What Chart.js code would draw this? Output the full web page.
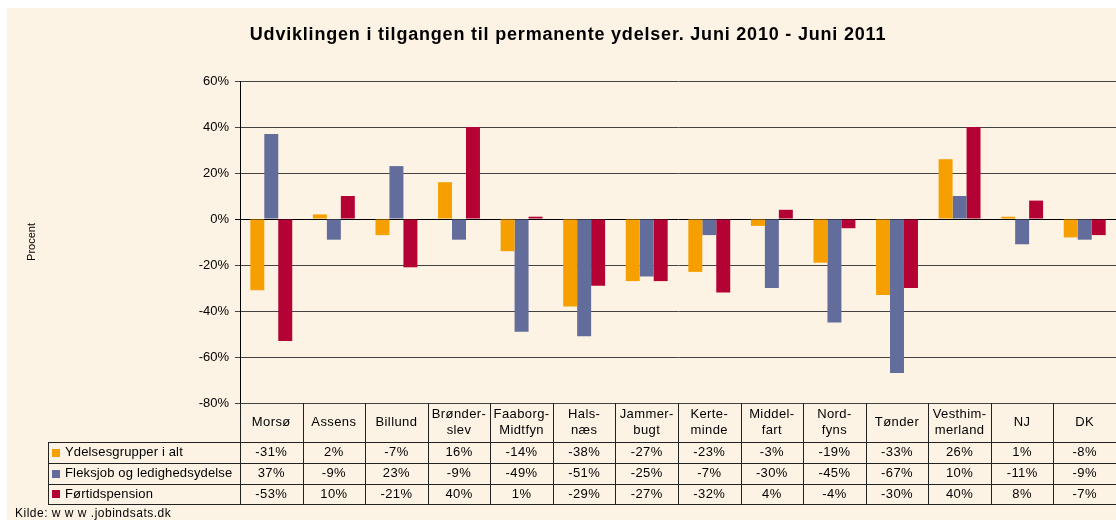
<!DOCTYPE html>
<html>
<head>
<meta charset="utf-8">
<script src="https://cdn.jsdelivr.net/npm/chart.js@4/dist/chart.umd.min.js"></script>
<style>
  html, body { margin: 0; padding: 0; background: #fff; }
  #wrap { width: 1116px; height: 520px; }
</style>
</head>
<body>
<div id="wrap"><canvas id="myChart" width="1116" height="520"></canvas></div>
<script>
// data
const kommuner = ['Morsø', 'Assens', 'Billund', 'Brønderslev', 'Faaborg-Midtfyn', 'Halsnæs', 'Jammerbugt',
  'Kerteminde', 'Middelfart', 'Nordfyns', 'Tønder', 'Vesthimmerland', 'NJ', 'DK'];
// labels as they are split in the table header
const kommuneLinjer = [['Morsø'], ['Assens'], ['Billund'], ['Brønder-', 'slev'], ['Faaborg-', 'Midtfyn'],
  ['Hals-', 'næs'], ['Jammer-', 'bugt'], ['Kerte-', 'minde'], ['Middel-', 'fart'], ['Nord-', 'fyns'],
  ['Tønder'], ['Vesthim-', 'merland'], ['NJ'], ['DK']];
const ydelser = [-31, 2, -7, 16, -14, -38, -27, -23, -3, -19, -33, 26, 1, -8];
const fleksjob = [37, -9, 23, -9, -49, -51, -25, -7, -30, -45, -67, 10, -11, -9];
const foertid = [-53, 10, -21, 40, 1, -29, -27, -32, 4, -4, -30, 40, 8, -7];
const serieNavne = ['Ydelsesgrupper i alt', 'Fleksjob og ledighedsydelse', 'Førtidspension'];
const yMin = -80;
const yMax = 60;
const yStep = 20;

const farver = ['#F5A000', '#636D9B', '#B30233'];
const FONT = "'Liberation Sans', Arial, sans-serif";

Chart.defaults.font.family = FONT;
Chart.defaults.color = '#000';

/**
 * baggrund, titel, akse-titel, datatabel og kilde
 */
const tegnPlugin = {
  id: 'tegnPlugin',
  beforeDraw(chart) {
    const ctx = chart.ctx;
    ctx.save();
    ctx.fillStyle = '#fff';
    ctx.fillRect(0, 0, chart.width, chart.height);
    ctx.fillStyle = '#FDF3E5';
    ctx.fillRect(7, 8, chart.width - 7, chart.height - 8);
    ctx.restore();
  },
  afterDraw(chart) {
    const ctx = chart.ctx;
    const x = chart.scales.x;
    const area = chart.chartArea;
    const colW = x.width / kommuner.length;
    const rows = [area.bottom, area.bottom + 39, area.bottom + 60, area.bottom + 81, area.bottom + 101];
    const tabelVenstre = 48;

    ctx.save();

    // titel
    ctx.fillStyle = '#000';
    ctx.font = 'bold 18px ' + FONT;
    ctx.letterSpacing = '0.8px';
    ctx.textAlign = 'center';
    ctx.textBaseline = 'middle';
    ctx.fillText('Udviklingen i tilgangen til permanente ydelser. Juni 2010 - Juni 2011', 568, 35);
    ctx.letterSpacing = '0px';

    // y akse titel
    ctx.save();
    ctx.translate(32, (area.top + area.bottom) / 2);
    ctx.rotate(-Math.PI / 2);
    ctx.font = '11px ' + FONT;
    ctx.fillText('Procent', 0, 0);
    ctx.restore();

    // linjer i tabellen
    ctx.strokeStyle = '#222';
    ctx.lineWidth = 1;
    ctx.beginPath();
    for (let i = 1; i < rows.length; i++) {
      ctx.moveTo(tabelVenstre, Math.round(rows[i]) + 0.5);
      ctx.lineTo(area.right, Math.round(rows[i]) + 0.5);
    }
    ctx.moveTo(tabelVenstre + 0.5, rows[1]);
    ctx.lineTo(tabelVenstre + 0.5, rows[4]);
    for (let i = 0; i <= kommuner.length; i++) {
      const lx = Math.round(area.left + i * colW) + 0.5;
      if (lx > area.right) continue;
      ctx.moveTo(lx, rows[0]);
      ctx.lineTo(lx, rows[4]);
    }
    ctx.stroke();

    // kategorier
    ctx.font = '13px ' + FONT;
    ctx.letterSpacing = '0.4px';
    ctx.textAlign = 'center';
    kommuneLinjer.forEach((linjer, i) => {
      const cx = x.getPixelForValue(i);
      const midt = (rows[0] + rows[1]) / 2;
      if (linjer.length === 1) {
        ctx.fillText(linjer[0], cx, midt);
      } else {
        ctx.fillText(linjer[0], cx, midt - 8);
        ctx.fillText(linjer[1], cx, midt + 8);
      }
    });

    // værdier + legend
    chart.data.datasets.forEach((ds, r) => {
      const cy = (rows[r + 1] + rows[r + 2]) / 2;
      ctx.fillStyle = ds.backgroundColor;
      ctx.fillRect(52, Math.round(cy) - 4, 8, 8);
      ctx.fillStyle = '#000';
      ctx.textAlign = 'left';
      ctx.letterSpacing = '0.15px';
      ctx.fillText(ds.label, 65, cy);
      ctx.letterSpacing = '0.4px';
      ctx.textAlign = 'center';
      ds.data.forEach((v, i) => {
        ctx.fillText(v + '%', x.getPixelForValue(i), cy);
      });
    });

    // kilde
    ctx.font = '12px ' + FONT;
    ctx.letterSpacing = '0.5px';
    ctx.textAlign = 'left';
    ctx.fillText('Kilde: w w w .jobindsats.dk', 15, 514);

    ctx.restore();
  }
};

function charting() {
  const ctx = document.getElementById('myChart').getContext('2d');

  new Chart(ctx, {
    type: 'bar',
    data: {
      labels: kommuner,
      datasets: [
        { label: serieNavne[0], data: ydelser, backgroundColor: farver[0] },
        { label: serieNavne[1], data: fleksjob, backgroundColor: farver[1] },
        { label: serieNavne[2], data: foertid, backgroundColor: farver[2] }
      ]
    },
    options: {
      responsive: false,
      animation: false,
      layout: { padding: { top: 81, left: 0, right: 0, bottom: 117 } },
      datasets: {
        bar: { categoryPercentage: 0.67, barPercentage: 1, borderWidth: 0 }
      },
      plugins: {
        legend: { display: false },
        title: { display: false },
        tooltip: { enabled: false }
      },
      scales: {
        x: { display: false },
        y: {
          min: yMin,
          max: yMax,
          afterFit: (scale) => { scale.width = 240; },
          ticks: {
            stepSize: yStep,
            padding: 6,
            color: '#000',
            font: { size: 13 },
            callback: (v) => v + '%'
          },
          grid: {
            color: (c) => c.tick && c.tick.value === 0 ? '#000' : '#444',
            tickLength: 5,
            lineWidth: 1
          },
          border: { display: true, color: '#000' }
        }
      }
    },
    plugins: [tegnPlugin]
  });
}

charting();
</script>
</body>
</html>
